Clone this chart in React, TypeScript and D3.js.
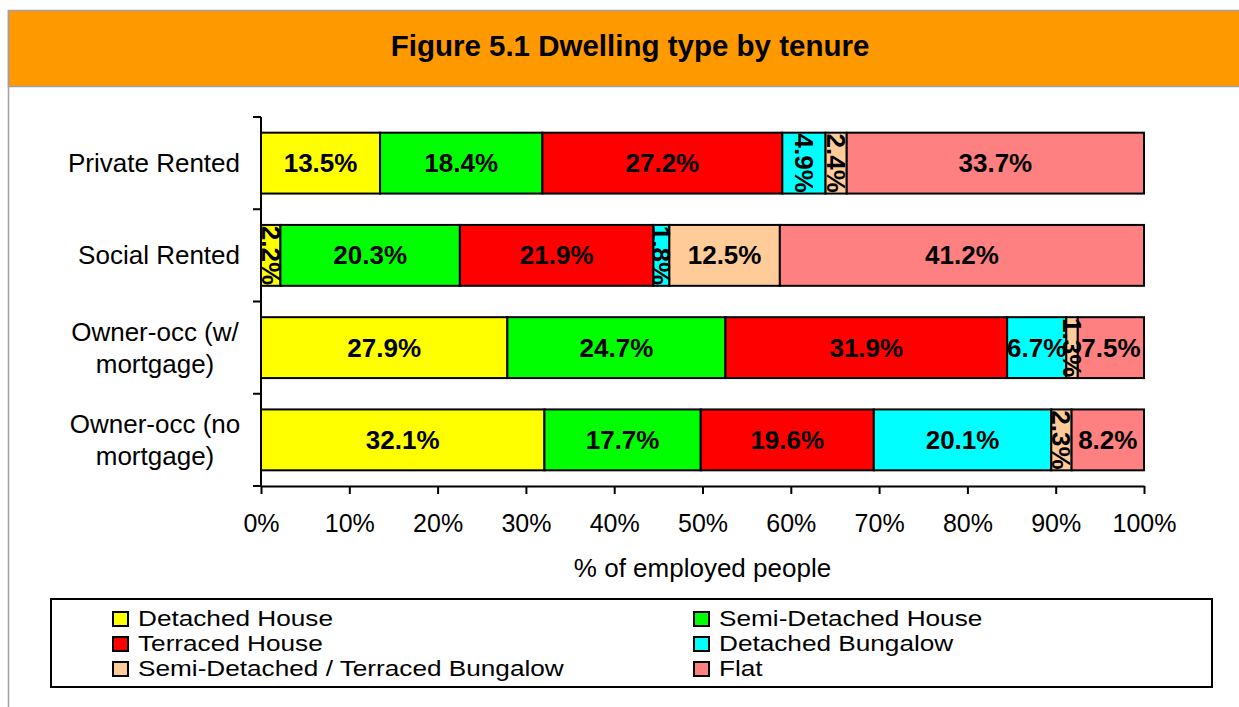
import React, { useEffect, useRef } from 'react';
import * as d3 from 'd3';

// Tenure categories (top to bottom) and their wrapped axis labels
const categories = ['Private Rented', 'Social Rented', 'Owner-occ (w/ mortgage)', 'Owner-occ (no mortgage)'];
const categoryLines = [['Private Rented'], ['Social Rented'], ['Owner-occ (w/', 'mortgage)'], ['Owner-occ (no', 'mortgage)']];

// Dwelling types (series) and their fills
const dwellingTypes = [
  'Detached House',
  'Semi-Detached House',
  'Terraced House',
  'Detached Bungalow',
  'Semi-Detached / Terraced Bungalow',
  'Flat',
];
const seriesColors = ['#FFFF00', '#00FF00', '#FF0000', '#00FFFF', '#FFCC99', '#FF8080'];

// Percentages per tenure, same order as categories
const detachedHouse = [13.5, 2.2, 27.9, 32.1];
const semiDetachedHouse = [18.4, 20.3, 24.7, 17.7];
const terracedHouse = [27.2, 21.9, 31.9, 19.6];
const detachedBungalow = [4.9, 1.8, 6.7, 20.1];
const semiTerracedBungalow = [2.4, 12.5, 1.3, 2.3];
const flat = [33.7, 41.2, 7.5, 8.2];

const seriesValues = [detachedHouse, semiDetachedHouse, terracedHouse, detachedBungalow, semiTerracedBungalow, flat];

const xTicks = [0, 0.1, 0.2, 0.3, 0.4, 0.5, 0.6, 0.7, 0.8, 0.9, 1];

const FONT = "Arial, 'Liberation Sans', sans-serif";

const App: React.FC = () => {
  const svgRef = useRef<SVGSVGElement>(null);

  useEffect(() => {
    if (!svgRef.current) return;
    const svg = d3.select(svgRef.current);
    svg.selectAll('*').remove();

    const W = 1239;
    const H = 707;
    const plot = { left: 261, right: 1144, top: 117, bottom: 486 };

    svg.attr('width', W).attr('height', H).style('font-family', FONT);

    // Frame + orange title band
    svg.append('rect').attr('x', 0).attr('y', 0).attr('width', W).attr('height', H).attr('fill', '#fff');
    svg.append('rect')
      .attr('x', 8.5).attr('y', 10.5).attr('width', W).attr('height', 76)
      .attr('fill', '#FF9900').attr('stroke', '#A0A0A0').attr('stroke-width', 1.5);
    svg.append('line')
      .attr('x1', 8.5).attr('x2', 8.5).attr('y1', 10).attr('y2', H)
      .attr('stroke', '#A0A0A0').attr('stroke-width', 1.5);
    svg.append('text')
      .attr('x', 630).attr('y', 56)
      .attr('text-anchor', 'middle')
      .style('font-size', '29.5px').style('font-weight', 'bold')
      .text('Figure 5.1 Dwelling type by tenure');

    // Table for the stack
    const table = categories.map((c, i) => {
      const row: Record<string, any> = { category: c };
      dwellingTypes.forEach((t, j) => { row[t] = seriesValues[j][i]; });
      return row;
    });
    const stacked = d3.stack<any>().keys(dwellingTypes).offset(d3.stackOffsetExpand)(table);

    const x = d3.scaleLinear().domain([0, 1]).range([plot.left, plot.right]);
    const y = d3.scaleBand<string>()
      .domain(categories)
      .range([plot.top, plot.bottom])
      .paddingInner(0.34)
      .paddingOuter(0.17);
    const color = d3.scaleOrdinal<string, string>().domain(dwellingTypes).range(seriesColors);

    // clip the value labels to their bar row (narrow rotated labels get cut like in Excel)
    const defs = svg.append('defs');
    categories.forEach((c, i) => {
      defs.append('clipPath').attr('id', `row-clip-${i}`)
        .append('rect')
        .attr('x', 0).attr('width', W)
        .attr('y', y(c)!).attr('height', y.bandwidth());
    });

    // Bars
    stacked.forEach((layer) => {
      svg.append('g')
        .selectAll('rect')
        .data(layer)
        .enter()
        .append('rect')
        .attr('x', d => x(d[0]))
        .attr('y', d => y(d.data.category)!)
        .attr('width', d => x(d[1]) - x(d[0]))
        .attr('height', y.bandwidth())
        .attr('fill', color(layer.key))
        .attr('stroke', '#000')
        .attr('stroke-width', 2);
    });

    // Value labels
    stacked.forEach((layer, j) => {
      layer.forEach((d, i) => {
        const v = seriesValues[j][i];
        const cx = (x(d[0]) + x(d[1])) / 2;
        const cy = y(d.data.category)! + y.bandwidth() / 2;
        const t = svg.append('g').attr('clip-path', `url(#row-clip-${i})`)
          .append('text')
          .attr('text-anchor', 'middle')
          .attr('dy', '0.35em')
          .style('font-size', '26px')
          .style('font-weight', 'bold')
          .text(`${v.toFixed(1)}%`);
        if (v < 5) t.attr('transform', `translate(${cx},${cy}) rotate(90)`);
        else t.attr('x', cx).attr('y', cy);
      });
    });

    // Y axis with ticks at band boundaries
    const step = y.step();
    svg.append('line')
      .attr('x1', plot.left).attr('x2', plot.left)
      .attr('y1', plot.top).attr('y2', plot.bottom)
      .attr('stroke', '#000').attr('stroke-width', 2);
    svg.selectAll('.ytick')
      .data(d3.range(categories.length + 1))
      .enter()
      .append('line')
      .attr('class', 'ytick')
      .attr('x1', plot.left - 8).attr('x2', plot.left)
      .attr('y1', i => plot.top + i * step).attr('y2', i => plot.top + i * step)
      .attr('stroke', '#000').attr('stroke-width', 2);

    // Category labels
    categories.forEach((c, i) => {
      const lines = categoryLines[i];
      const cy = y(c)! + y.bandwidth() / 2;
      const lh = 32;
      const text = svg.append('text')
        .attr('text-anchor', lines.length > 1 ? 'middle' : 'end')
        .style('font-size', '26px');
      lines.forEach((ln, k) => {
        text.append('tspan')
          .attr('x', lines.length > 1 ? 155 : 240)
          .attr('y', cy + 9 + (k - (lines.length - 1) / 2) * lh)
          .text(ln);
      });
    });

    // X axis
    const xAxis = svg.append('g')
      .attr('transform', `translate(0,${plot.bottom})`)
      .call(
        d3.axisBottom(x)
          .tickValues(xTicks)
          .tickFormat(d3.format('.0%'))
          .tickSize(8)
          .tickSizeOuter(0)
          .tickPadding(20)
      );
    xAxis.select('.domain').attr('stroke-width', 2);
    xAxis.selectAll('.tick line').attr('stroke-width', 2);
    xAxis.selectAll('.tick text')
      .style('font-size', '25px')
      .style('font-family', FONT)
      .attr('fill', '#000');

    svg.append('text')
      .attr('x', (plot.left + plot.right) / 2)
      .attr('y', 577)
      .attr('text-anchor', 'middle')
      .style('font-size', '26px')
      .text('% of employed people');

    // Legend
    svg.append('rect')
      .attr('x', 51).attr('y', 599).attr('width', 1161).attr('height', 88)
      .attr('fill', '#fff').attr('stroke', '#000').attr('stroke-width', 2);

    const legendCols = [113, 694];
    dwellingTypes.forEach((t, i) => {
      const col = i % 2;
      const row = Math.floor(i / 2);
      const lx = legendCols[col];
      const ly = 626 + row * 25;
      svg.append('rect')
        .attr('x', lx).attr('y', ly - 14)
        .attr('width', 15).attr('height', 14)
        .attr('fill', color(t)).attr('stroke', '#000').attr('stroke-width', 2);
      svg.append('text')
        .attr('transform', `translate(${lx + 25},${ly}) scale(1.19,1)`)
        .style('font-size', '22px')
        .text(t);
    });
  }, []);

  return (
    <div style={{ position: 'absolute', left: 0, top: 0 }}>
      <svg ref={svgRef}></svg>
    </div>
  );
};

export default App;
